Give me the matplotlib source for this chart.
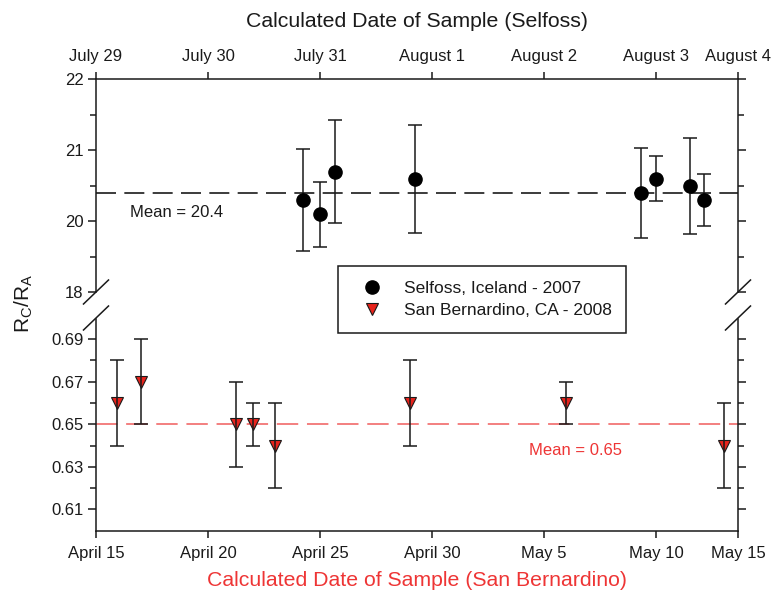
import numpy as np
import matplotlib
matplotlib.use('Agg')
import matplotlib.pyplot as plt
from matplotlib.lines import Line2D

plt.rcParams['font.family'] = 'Liberation Sans'
plt.rcParams['mathtext.fontset'] = 'custom'
plt.rcParams['mathtext.rm'] = 'Liberation Sans'
plt.rcParams['mathtext.it'] = 'Liberation Sans'

# Selfoss, Iceland - 2007 (dias despues de July 29)
selfoss_dia = [1.85, 2.0, 2.13, 2.85, 4.86, 5.0, 5.3, 5.43]
selfoss_val = [20.3, 20.1, 20.7, 20.6, 20.4, 20.6, 20.5, 20.3]
selfoss_err = [0.72, 0.46, 0.72, 0.76, 0.63, 0.32, 0.68, 0.37]
selfoss_media = 20.4

# San Bernardino, CA - 2008 (dias despues de April 15)
sanb_dia = [0.95, 2.0, 6.25, 7.0, 8.0, 14.0, 21.0, 28.05]
sanb_val = [0.66, 0.67, 0.65, 0.65, 0.64, 0.66, 0.66, 0.64]
sanb_err = [0.02, 0.02, 0.02, 0.01, 0.02, 0.02, 0.01, 0.02]
sanb_media = 0.65

ticks_top = [0, 1, 2, 3, 4, 5, 5.73]
labels_top = ['July 29', 'July 30', 'July 31', 'August 1', 'August 2', 'August 3', 'August 4']
ticks_bot = [0, 5, 10, 15, 20, 25, 28.66]
labels_bot = ['April 15', 'April 20', 'April 25', 'April 30', 'May 5', 'May 10', 'May 15']

negro = '#1a1a1a'
rojo = '#e8231c'
rojo_texto = '#ee3535'
rojo_linea = '#f37f7f'

fig = plt.figure(figsize=(7.76, 5.94), dpi=100)
W, H = 776.0, 594.0
# ejes en pixeles: x 96-738 ; arriba 79.3-292.3 ; abajo 319-530.7
ax1 = fig.add_axes([96 / W, 1 - 292.3 / H, 642 / W, 213 / H])
ax2 = fig.add_axes([96 / W, 1 - 530.7 / H, 642 / W, 211.7 / H])

lw = 1.1
for ax in (ax1, ax2):
    for s in ax.spines.values():
        s.set_linewidth(lw)
        s.set_color(negro)
    ax.tick_params(which='both', direction='out', width=lw, colors=negro,
                   labelsize=12, left=True, right=True)
    ax.tick_params(which='major', length=5.5)
    ax.tick_params(which='minor', length=4.3)

# ---- panel superior (Selfoss) ----
ax1.spines['bottom'].set_visible(False)
ax1.xaxis.tick_top()
ax1.set_xlim(0, 5.73)
ax1.set_xticks(ticks_top)
ax1.set_xticklabels(labels_top)
ax1.tick_params(axis='x', length=5, pad=6)
ax1.set_ylim(19, 22)
ax1.set_yticks([19, 20, 21, 22])
ax1.set_yticklabels(['18', '20', '21', '22'])
ax1.set_yticks([19.5, 20.5, 21.5], minor=True)

ax1.axhline(selfoss_media, color=negro, lw=1.2, dashes=(12, 5), zorder=1)
ax1.errorbar(selfoss_dia, selfoss_val, yerr=selfoss_err, fmt='none', ecolor=negro,
             elinewidth=1.1, capsize=5.2, capthick=1.1, zorder=3)
ax1.plot(selfoss_dia, selfoss_val, 'o', color='black', ms=9.5, zorder=4)
ax1.text((130 - 96) / 642.0 * 5.73, 20.12, 'Mean = 20.4', fontsize=12,
         color=negro, va='center', ha='left')
ax1.set_title('Calculated Date of Sample (Selfoss)', fontsize=15.3, color=negro, pad=38)

# ---- panel inferior (San Bernardino) ----
ax2.spines['top'].set_visible(False)
ax2.set_xlim(0, 28.66)
ax2.set_xticks(ticks_bot)
ax2.set_xticklabels(labels_bot)
ax2.tick_params(axis='x', length=5, pad=6)
ax2.set_ylim(0.6, 0.6995)
ax2.set_yticks([0.61, 0.63, 0.65, 0.67, 0.69])
ax2.set_yticklabels(['0.61', '0.63', '0.65', '0.67', '0.69'])
ax2.set_yticks([0.62, 0.64, 0.66, 0.68], minor=True)

ax2.axhline(sanb_media, color=rojo_linea, lw=1.4, dashes=(11, 4.5), zorder=1)
ax2.plot(sanb_dia, sanb_val, 'v', color=rojo, mec=negro, mew=0.8, ms=9, zorder=2)
ax2.errorbar(sanb_dia, sanb_val, yerr=sanb_err, fmt='none', ecolor=negro,
             elinewidth=1.1, capsize=5.2, capthick=1.1, zorder=3)
ax2.text((529 - 96) / 22.4, 0.6375, 'Mean = 0.65', fontsize=12, color=rojo_texto,
         va='center', ha='left')
ax2.set_xlabel('Calculated Date of Sample (San Bernardino)', fontsize=15.3,
               color=rojo_texto, labelpad=7)

# etiqueta eje y
fig.text(24 / W, 1 - 303 / H, r'$\mathregular{R_C/R_A}$', rotation=90, fontsize=15,
         color=negro, ha='center', va='center')

# marcas de corte
for xc in (96, 738):
    for yc in (292, 318):
        fig.add_artist(Line2D([(xc - 12.5) / W, (xc + 12.5) / W],
                              [1 - (yc + 12) / H, 1 - (yc - 12) / H],
                              color=negro, lw=1.1))

# leyenda
handles = [Line2D([], [], marker='o', ls='none', color='black', ms=9.5),
           Line2D([], [], marker='v', ls='none', color=rojo, mec=negro, mew=0.8, ms=9)]
leg = fig.legend(handles, ['Selfoss, Iceland - 2007', 'San Bernardino, CA - 2008'],
                 loc='center', bbox_to_anchor=(482 / W, 1 - 299.5 / H), fontsize=12.5,
                 frameon=True, fancybox=False, borderpad=0.85, labelspacing=0.4,
                 handlelength=2.2, handletextpad=0.75)
leg.get_frame().set_edgecolor(negro)
leg.get_frame().set_linewidth(1.1)
leg.get_frame().set_alpha(1)
for t in leg.get_texts():
    t.set_color(negro)

fig.savefig('out.png', dpi=100)
